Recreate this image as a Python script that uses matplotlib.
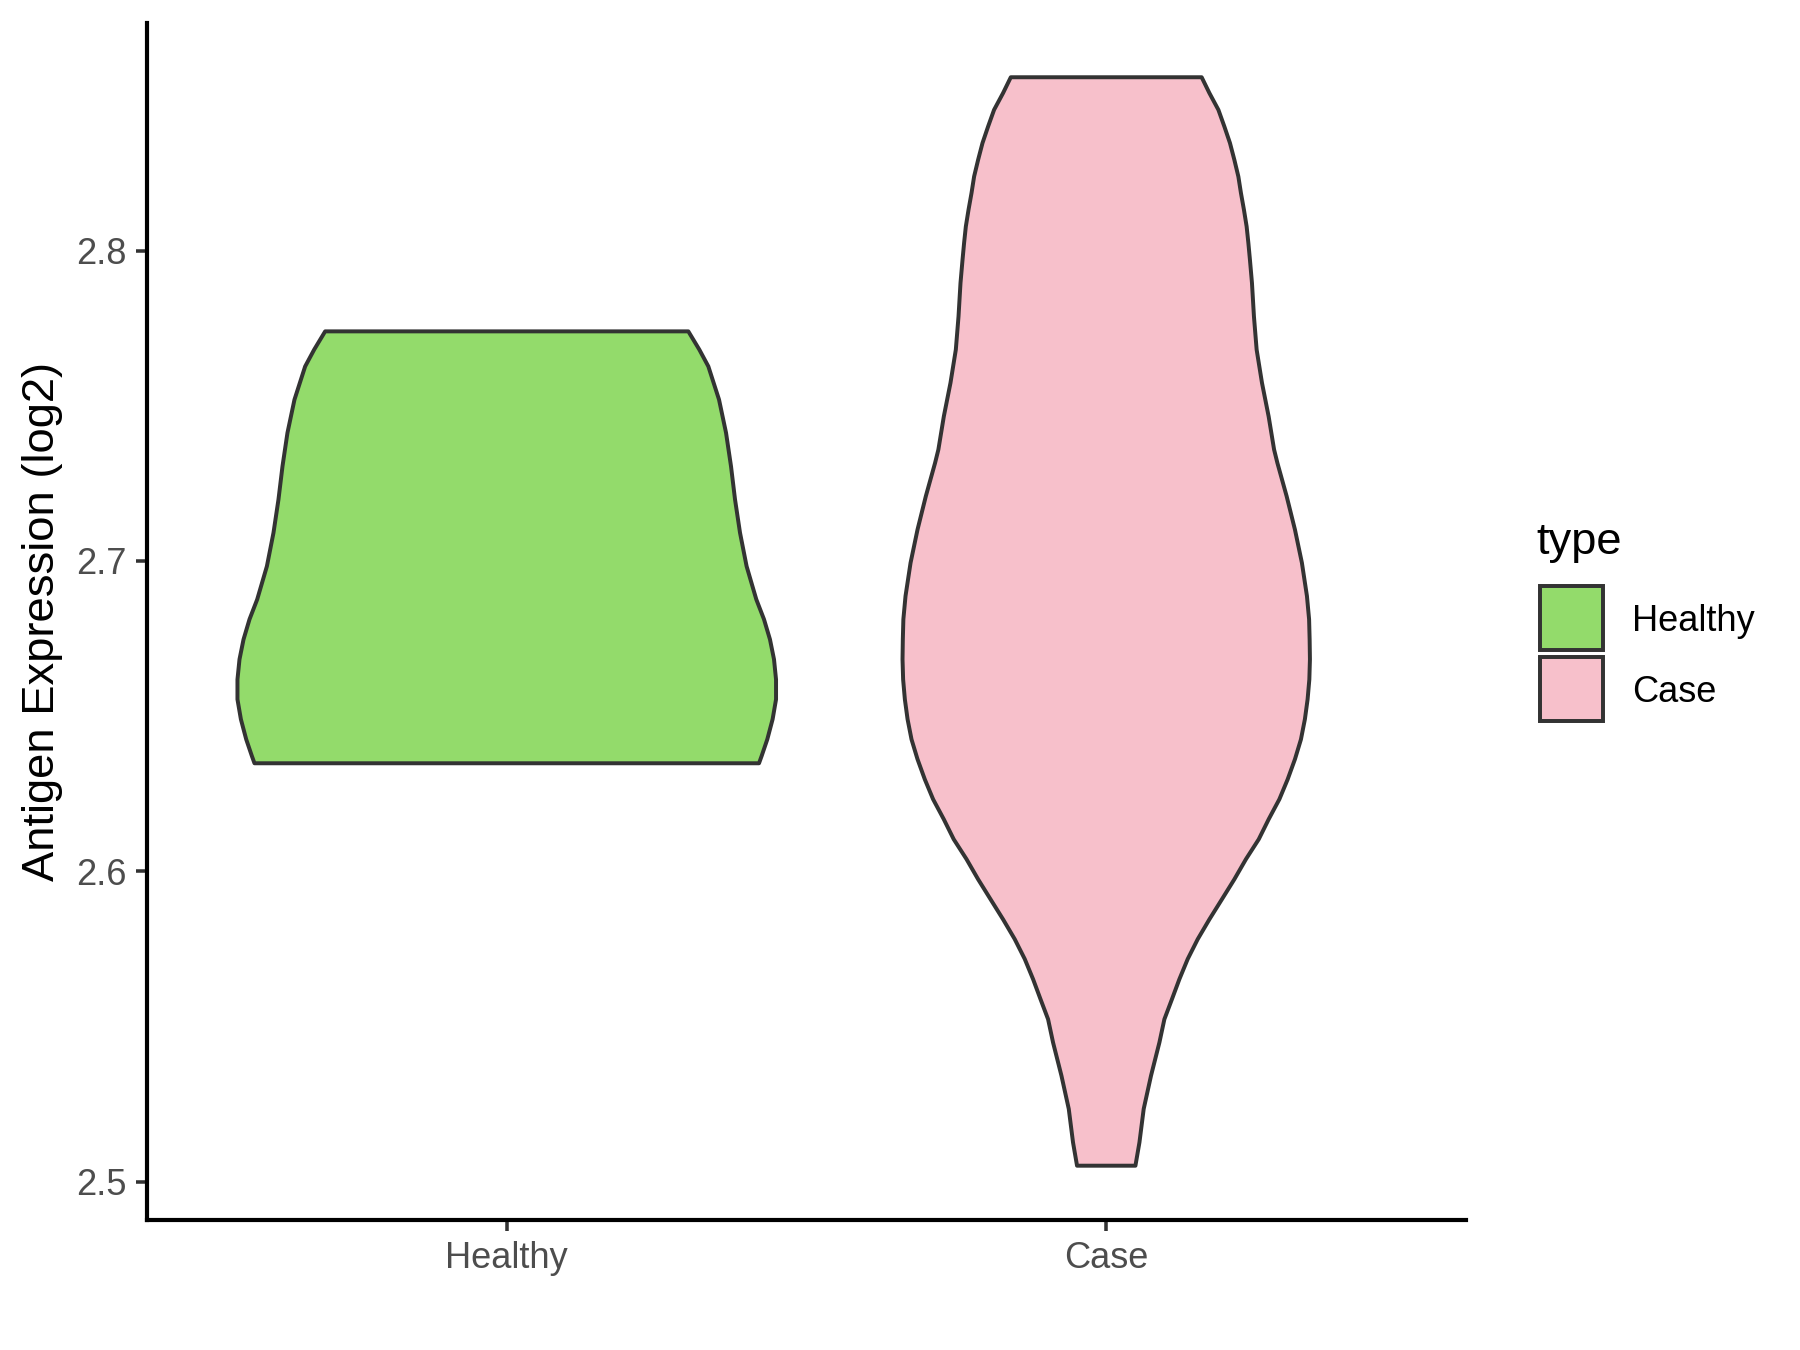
"""Violin plot of antigen expression (log2), Healthy vs Case."""

import matplotlib

matplotlib.use("Agg")
import matplotlib.pyplot as plt
from matplotlib.patches import Rectangle

plt.rcParams["font.family"] = ["Liberation Sans", "DejaVu Sans"]

categories = ["Healthy", "Case"]
colors = ["#93DB6B", "#F7C0CB"]

# violin outline: y level and half width (x units)
healthy_y = [2.7740, 2.7681, 2.7627, 2.7520, 2.7413, 2.7305, 2.7198, 2.7091,
             2.6983, 2.6876, 2.6812, 2.6747, 2.6683, 2.6618, 2.6554, 2.6490,
             2.6425, 2.6371, 2.6348]
healthy_hw = [0.3029, 0.3213, 0.3363, 0.3541, 0.3658, 0.3741, 0.3808, 0.3891,
              0.4001, 0.4163, 0.4291, 0.4391, 0.4458, 0.4492, 0.4492, 0.4435,
              0.4346, 0.4251, 0.4208]

case_y = [2.8559, 2.8508, 2.8454, 2.8400, 2.8347, 2.8293, 2.8239, 2.8186,
          2.8132, 2.8078, 2.8025, 2.7971, 2.7896, 2.7788, 2.7681, 2.7574,
          2.7466, 2.7359, 2.7316, 2.7209, 2.7101, 2.6994, 2.6887, 2.6812,
          2.6747, 2.6683, 2.6618, 2.6554, 2.6490, 2.6425, 2.6361, 2.6296,
          2.6232, 2.6168, 2.6103, 2.6039, 2.5974, 2.5910, 2.5845, 2.5781,
          2.5717, 2.5652, 2.5588, 2.5523, 2.5448, 2.5341, 2.5234, 2.5126,
          2.5051]
case_hw = [0.1592, 0.1721, 0.1871, 0.1971, 0.2064, 0.2137, 0.2204, 0.2247,
           0.2297, 0.2342, 0.2371, 0.2397, 0.2431, 0.2464, 0.2509, 0.2598,
           0.2709, 0.2800, 0.2855, 0.3009, 0.3148, 0.3264, 0.3348, 0.3384,
           0.3393, 0.3398, 0.3388, 0.3359, 0.3314, 0.3248, 0.3148, 0.3026,
           0.2888, 0.2711, 0.2544, 0.2331, 0.2137, 0.1931, 0.1721, 0.1526,
           0.1359, 0.1220, 0.1097, 0.0970, 0.0887, 0.0747, 0.0625, 0.0554,
           0.0487]

y_ticks = [2.5, 2.6, 2.7, 2.8]

fig = plt.figure(figsize=(12, 9), dpi=150)
ax = fig.add_axes([0.0817, 0.0963, 0.7327, 0.8867])

outline = "#333333"
for i, (ys, hws) in enumerate([(healthy_y, healthy_hw), (case_y, case_hw)]):
    pos = i + 1
    xs = [pos - w for w in hws] + [pos + w for w in hws[::-1]]
    yy = list(ys) + list(ys[::-1])
    ax.fill(xs, yy, facecolor=colors[i], edgecolor=outline, linewidth=1.9,
            joinstyle="round")

ax.set_xlim(0.4, 2.6)
ax.set_ylim(2.4876, 2.8734)
ax.set_xticks([1, 2])
ax.set_xticklabels(categories)
ax.set_yticks(y_ticks)
ax.set_yticklabels([f"{t:.1f}" for t in y_ticks])

for side in ["top", "right"]:
    ax.spines[side].set_visible(False)
for side in ["left", "bottom"]:
    ax.spines[side].set_linewidth(2.0)
    ax.spines[side].set_color("black")
    ax.spines[side].set_capstyle("projecting")

ax.tick_params(axis="both", length=5.5, width=1.7, color="#333333",
               labelcolor="#4D4D4D", labelsize=17.4, pad=4.5)

ax.set_ylabel("Antigen Expression (log2)", fontsize=21.8, color="black",
              va="center")
ax.yaxis.set_label_coords(-0.0796, 0.5)

# legend drawn by hand to match ggplot's key layout
fig.text(0.8537, 0.5899, "type", fontsize=21.8, color="black",
         ha="left", va="baseline")
key_bottoms = [0.5185, 0.4661]
label_baselines = [0.5327, 0.4799]
for c, lab, kb, lb in zip(colors, categories, key_bottoms, label_baselines):
    fig.add_artist(Rectangle((0.8556, kb), 0.0347, 0.0472,
                             transform=fig.transFigure, facecolor=c,
                             edgecolor=outline, linewidth=1.9))
    fig.text(0.9066, lb, lab, fontsize=17.4, color="black",
             ha="left", va="baseline")

fig.savefig("out.png", dpi=150)
